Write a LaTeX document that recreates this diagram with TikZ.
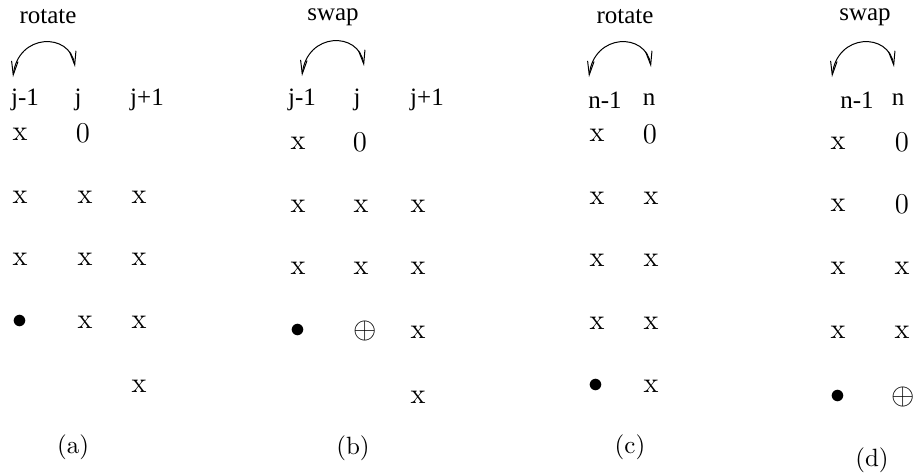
\documentclass[tikz,border=0pt]{standalone}
\usepackage{fontspec}
\newfontfamily\timesfont{Liberation Serif}
\usetikzlibrary{arrows.meta}

\begin{document}
\begin{tikzpicture}[
  x=0.4pt, y=-0.4pt,
  lbl/.style={font=\timesfont\fontsize{10}{12}\selectfont, inner sep=0pt},
  ent/.style={font=\fontsize{11.5}{13}\selectfont, inner sep=0pt},
  tag/.style={font=\fontsize{10}{12}\selectfont, inner sep=0pt},
  swing/.style={{Straight Barb[length=5.5pt,width=2.6pt]}-{Straight Barb[length=5.5pt,width=2.6pt]}, line width=0.4pt},
]
\useasboundingbox (0,0) rectangle (917,474);
% (a) rotate j-1 / j
\node[lbl] (ta) at (48,17) {rotate};
\coordinate (aL) at (13,77); \coordinate (aR) at (75,67);
\draw[swing] (aL) .. controls (18,33) and (70,32) .. (aR);
\node[lbl] (ha1) at (25,100) {j-1};
\node[lbl] (ha2) at (78,100) {j};
\node[lbl] (ha3) at (147,100) {j+1};
\foreach \n/\xx/\yy/\s in {a11/20/134/x, a12/83/133/0,
    a21/20/197/x, a22/85/197/x, a23/139/197/x,
    a31/20/259/x, a32/85/259/x, a33/139/259/x,
    a41/20/322/$\bullet$, a42/85/322/x, a43/139/322/x,
    a53/139/386/x}{
  \node[ent] (\n) at (\xx,\yy) {\s};
}
\node[tag] (ca) at (73,447) {(a)};
% (b) swap j-1 / j
\node[lbl] (tb) at (333,17) {swap};
\coordinate (bL) at (302,76); \coordinate (bR) at (364,66);
\draw[swing] (bL) .. controls (307,32) and (359,31) .. (bR);
\node[lbl] (hb1) at (302,100) {j-1};
\node[lbl] (hb2) at (357,100) {j};
\node[lbl] (hb3) at (427,100) {j+1};
\foreach \n/\xx/\yy/\s in {b11/298/143/x, b12/360/142/0,
    b21/298/206/x, b22/361/206/x, b23/418/206/x,
    b31/298/268/x, b32/361/268/x, b33/418/268/x,
    b41/298/331/$\bullet$, b42/365/331/$\oplus$, b43/418/332/x,
    b53/418/397/x}{
  \node[ent] (\n) at (\xx,\yy) {\s};
}
\node[tag] (cb) at (353,448) {(b)};
% (c) rotate n-1 / n
\node[lbl] (tc) at (625,17) {rotate};
\coordinate (cL) at (589,77); \coordinate (cR) at (651,67);
\draw[swing] (cL) .. controls (594,33) and (646,32) .. (cR);
\node[lbl] (hc1) at (605,100) {n-1};
\node[lbl] (hc2) at (649,100) {n};
\foreach \n/\xx/\yy/\s in {c11/597/135/x, c12/650/134/0,
    c21/597/198/x, c22/651/198/x,
    c31/597/260/x, c32/651/260/x,
    c41/597/323/x, c42/651/323/x,
    c51/596/386/$\bullet$, c52/651/386/x}{
  \node[ent] (\n) at (\xx,\yy) {\s};
}
\node[tag] (cc) at (630,447) {(c)};
% (d) swap n-1 / n
\node[lbl] (td) at (865,17) {swap};
\coordinate (dL) at (832,77); \coordinate (dR) at (894,67);
\draw[swing] (dL) .. controls (837,33) and (889,32) .. (dR);
\node[lbl] (hd1) at (857,100) {n-1};
\node[lbl] (hd2) at (898,100) {n};
\foreach \n/\xx/\yy/\s in {d11/838/143/x, d12/902/142/0,
    d21/838/205/x, d22/902/204/0,
    d31/838/268/x, d32/902/268/x,
    d41/838/332/x, d42/902/332/x,
    d51/838/397/$\bullet$, d52/903/397/$\oplus$}{
  \node[ent] (\n) at (\xx,\yy) {\s};
}
\node[tag] (cd) at (872,460) {(d)};
\end{tikzpicture}
\end{document}
